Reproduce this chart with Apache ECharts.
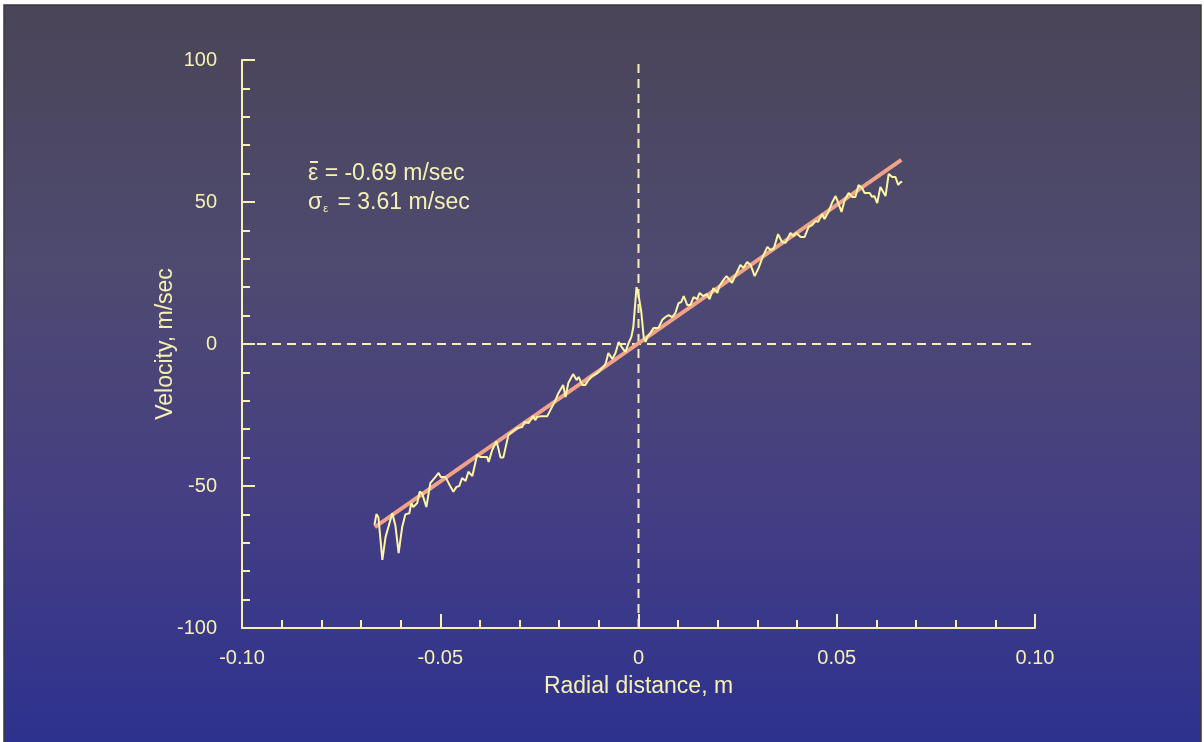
<!DOCTYPE html>
<html>
<head>
<meta charset="utf-8">
<script src="https://cdn.jsdelivr.net/npm/echarts@6/dist/echarts.min.js"></script>
<style>
html,body{margin:0;padding:0;background:#ffffff;}
#chart{width:1204px;height:742px;}
</style>
</head>
<body>
<div id="chart"></div>
<script>
// ---- data ----
const radialX = [-0.0666,-0.0661,-0.0656,-0.0646,-0.0638,-0.0621,-0.0613,-0.0605,-0.0596,-0.0588,-0.0578,-0.0573,-0.0568,-0.0558,-0.0552,-0.0546,-0.0535,-0.0525,-0.0512,-0.0504,-0.0499,-0.0487,-0.0474,-0.0467,-0.0459,-0.0452,-0.0445,-0.0436,-0.0429,-0.0419,-0.0407,-0.0399,-0.0382,-0.0378,-0.0369,-0.0358,-0.0348,-0.0341,-0.0328,-0.0319,-0.0306,-0.0293,-0.0288,-0.0277,-0.0272,-0.0266,-0.0260,-0.0256,-0.0252,-0.0245,-0.0230,-0.0222,-0.0209,-0.0202,-0.0190,-0.0184,-0.0177,-0.0165,-0.0156,-0.0151,-0.0142,-0.0134,-0.0126,-0.0117,-0.0108,-0.0101,-0.0092,-0.0083,-0.0076,-0.0066,-0.0058,-0.0050,-0.0041,-0.0033,-0.0025,-0.0018,-0.0013,-0.0005,0.0000,0.0007,0.0013,0.0018,0.0022,0.0030,0.0038,0.0050,0.0060,0.0068,0.0076,0.0085,0.0093,0.0101,0.0108,0.0114,0.0123,0.0131,0.0139,0.0148,0.0154,0.0163,0.0172,0.0179,0.0189,0.0199,0.0204,0.0214,0.0222,0.0227,0.0236,0.0245,0.0257,0.0265,0.0274,0.0283,0.0293,0.0303,0.0313,0.0325,0.0333,0.0341,0.0352,0.0362,0.0371,0.0383,0.0391,0.0398,0.0409,0.0419,0.0429,0.0438,0.0446,0.0453,0.0463,0.0469,0.0479,0.0489,0.0497,0.0504,0.0512,0.0520,0.0530,0.0539,0.0547,0.0555,0.0564,0.0570,0.0583,0.0589,0.0595,0.0602,0.0610,0.0615,0.0623,0.0631,0.0640,0.0648,0.0655,0.0661,0.0665];
const velocity = [-63.7,-59.9,-61,-76,-68,-59.6,-64,-73.6,-64.4,-60,-59.6,-56,-57.4,-56,-52,-52.5,-57.4,-49,-46.8,-45.4,-46.8,-46.8,-50.3,-52,-50.3,-50,-47.2,-48.2,-45,-46.5,-39,-39.8,-39.8,-41.5,-37.3,-34.2,-40,-40,-32,-31,-29.6,-29.2,-27.5,-27.8,-27.8,-25.4,-26.8,-25.7,-26,-25.4,-25.4,-23.2,-19.7,-17.3,-14.4,-18.7,-13.7,-10.6,-12.7,-11.6,-14.4,-14.4,-12.7,-11.3,-10.6,-9.9,-8.5,-7,-3.2,-5.3,-3.2,0.7,-1.4,-2.8,0.3,2.5,6,20,17.3,11.3,2.5,0.7,2.5,3.9,5.6,5.6,8.5,9.5,10.2,9.5,10.9,14.4,14.8,16.9,13.7,13.7,16.5,15.8,18,16.9,17.6,15.8,19.7,18,20.4,22.5,23.9,23.6,21.5,24.3,27.8,26.8,28.9,27.8,23.9,26.8,30.6,34.2,33.1,33.5,38.7,35.9,35.6,39.1,38,39.1,37.7,37.7,41.2,41.9,43.3,43,45.8,44,46.5,50,52.1,49.6,46.5,50.7,53.2,51.8,51.8,56,54.9,53.2,53.2,51.8,52.1,49.6,55.3,56,52.1,59.9,58.8,58.8,56,57,57];
const fitX = [-0.0665, 0.0663];
const fitY = [-64.5, 64.8];
const xTicks = [-0.10, -0.05, 0, 0.05, 0.10];
const xTickLabels = ['-0.10', '-0.05', '0', '0.05', '0.10'];
const yTicks = [-100, -50, 0, 50, 100];
const yTickLabels = ['-100', '-50', '0', '50', '100'];
const xTitle = 'Radial distance, m';
const yTitle = 'Velocity, m/sec';
const meanText = 'ε = -0.69 m/sec';
const sigmaValue = ' = 3.61 m/sec';

// ---- chart ----
const FG = '#f6f1b3';
const FONT = '"Liberation Sans", Arial, sans-serif';
const chart = echarts.init(document.getElementById('chart'), null, {renderer: 'canvas'});

function lab(ticks, labels) {
  return function (v) {
    for (let i = 0; i < ticks.length; i++) {
      if (Math.abs(v - ticks[i]) < 1e-9) return labels[i];
    }
    return '';
  };
}

const option = {
  animation: false,
  backgroundColor: 'transparent',
  grid: {left: 242, right: 169, top: 60, bottom: 114, containLabel: false},
  xAxis: {
    type: 'value', min: -0.10, max: 0.10, interval: 0.05,
    axisLine: {show: true, onZero: false, lineStyle: {color: FG, width: 2}},
    axisTick: {show: true, inside: true, length: 14, lineStyle: {color: FG, width: 2}},
    minorTick: {show: true, splitNumber: 5, length: 8, lineStyle: {color: FG, width: 2}},
    splitLine: {show: false},
    axisLabel: {color: FG, fontSize: 20, fontFamily: FONT, margin: 20, formatter: lab(xTicks, xTickLabels)},
    name: xTitle, nameLocation: 'middle', nameGap: 47, nameMoveOverlap: false,
    nameTextStyle: {color: FG, fontSize: 23, fontFamily: FONT}
  },
  yAxis: {
    type: 'value', min: -100, max: 100, interval: 50,
    axisLine: {show: true, onZero: false, lineStyle: {color: FG, width: 2}},
    axisTick: {show: true, inside: true, length: 13, lineStyle: {color: FG, width: 2}},
    minorTick: {show: true, splitNumber: 5, length: 8, lineStyle: {color: FG, width: 2}},
    splitLine: {show: false},
    axisLabel: {color: FG, fontSize: 20, fontFamily: FONT, margin: 25, formatter: lab(yTicks, yTickLabels)},
    name: yTitle, nameLocation: 'middle', nameGap: 65, nameMoveOverlap: false,
    nameTextStyle: {color: FG, fontSize: 23, fontFamily: FONT}
  },
  series: [
    {
      type: 'line', data: [[-0.10, 0], [0.10, 0]], symbol: 'none', z: 1,
      lineStyle: {color: FG, width: 2, type: [9, 6]}
    },
    {
      type: 'line', data: [[0, -100], [0, 100]], symbol: 'none', z: 1,
      lineStyle: {color: FG, width: 2, type: [9, 6]}
    },
    {
      type: 'line', data: fitX.map((x, i) => [x, fitY[i]]), symbol: 'none', z: 3,
      lineStyle: {color: '#f2a287', width: 4}
    },
    {
      type: 'line', data: radialX.map((x, i) => [x, velocity[i]]), symbol: 'none', z: 4,
      lineStyle: {color: '#fff6a4', width: 2}
    }
  ],
  graphic: {
    elements: [
      {
        type: 'rect', z: -100, silent: true,
        shape: {x: 4, y: 5, width: 1197, height: 740},
        style: {
          fill: new echarts.graphic.LinearGradient(0, 0, 0, 1, [
            {offset: 0, color: '#4a4557'},
            {offset: 0.35, color: '#4e4a70'},
            {offset: 0.65, color: '#463f82'},
            {offset: 1, color: '#2d318f'}
          ]),
          stroke: '#3a3a3a', lineWidth: 1.5
        }
      },
      {
        type: 'text', z: 10, left: 308, top: 162,
        style: {text: meanText, fill: FG, fontSize: 23, fontFamily: FONT}
      },
      {
        type: 'line', z: 10, shape: {x1: 310, y1: 162, x2: 318, y2: 162},
        style: {stroke: FG, lineWidth: 2}
      },
      {
        type: 'text', z: 10, left: 308, top: 191,
        style: {
          text: '{s|σ}{e|ε}{n|' + sigmaValue + '}',
          rich: {
            s: {fill: FG, fontSize: 23, fontFamily: FONT, lineHeight: 28, verticalAlign: 'bottom'},
            e: {fill: FG, fontSize: 11, fontFamily: FONT, lineHeight: 28, verticalAlign: 'bottom', padding: [0, 3, 0, 1]},
            n: {fill: FG, fontSize: 23, fontFamily: FONT, lineHeight: 28, verticalAlign: 'bottom'}
          }
        }
      }
    ]
  }
};
chart.setOption(option);
</script>
</body>
</html>
